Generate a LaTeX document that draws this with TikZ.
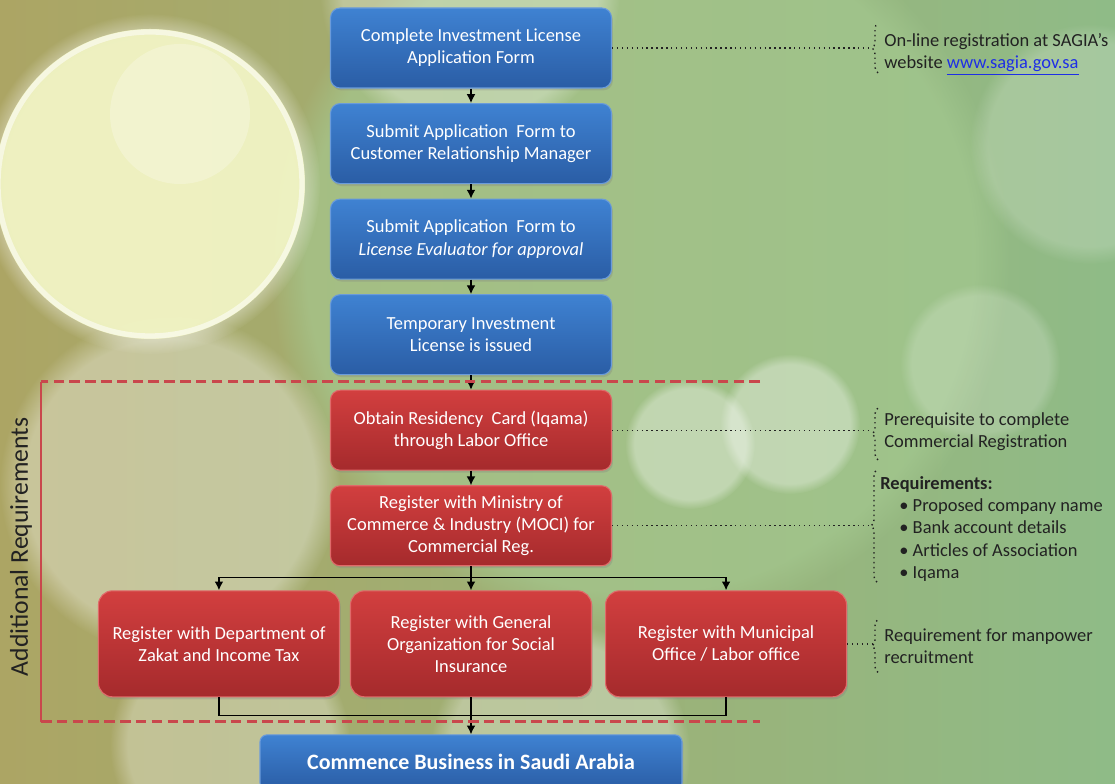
\documentclass[tikz,border=0pt]{standalone}
\usepackage{fontspec}
\setmainfont{Carlito}
\usetikzlibrary{arrows.meta,positioning,decorations.pathreplacing,shadows,fadings}
\definecolor{bluetop}{HTML}{3F82D2}
\definecolor{bluebot}{HTML}{2A5DA5}
\definecolor{blueedge}{HTML}{6A9BDB}
\definecolor{redtop}{HTML}{D23F3F}
\definecolor{redbot}{HTML}{A52A2C}
\definecolor{rededge}{HTML}{E06A6A}
\definecolor{dashred}{HTML}{C9474C}
\definecolor{olive}{HTML}{ACA564}
\definecolor{leaf}{HTML}{8FBB87}
\definecolor{paleleaf}{HTML}{A6CB92}
\definecolor{cream}{HTML}{F1F4C2}
\definecolor{inktext}{HTML}{222222}
\definecolor{linkblue}{HTML}{1E2EE6}

\begin{document}
\begin{tikzpicture}[
  >={Latex[length=5pt,width=5pt]},
  bluebox/.style={rounded corners=5.5pt, minimum width=5.62cm, minimum height=1.6cm, align=center, text=white,
    top color=bluetop, bottom color=bluebot, draw=blueedge, line width=0.6pt,
    font=\fontsize{10.5}{12.6}\selectfont,
    drop shadow={opacity=0.3, shadow xshift=0.8pt, shadow yshift=-1.4pt}},
  redbox/.style={bluebox, top color=redtop, bottom color=redbot, draw=rededge},
  wide/.style={redbox, rounded corners=8pt, minimum width=4.82cm, minimum height=2.12cm},
  arrow/.style={->, line width=0.75pt},
  link/.style={line width=0.75pt},
  dots/.style={dotted, line width=0.8pt, draw=inktext},
  brc/.style={dots, decorate, decoration={brace, amplitude=0.12cm}},
  note/.style={font=\fontsize{10.5}{12.6}\selectfont, text=inktext, align=left, inner xsep=0pt, inner ysep=2pt},
  frame/.style={draw=dashred, line width=1.7pt, dash pattern=on 6pt off 3pt},
  bokeh/.style={fill=white, path fading=circle with fuzzy edge 15 percent}
]
% background
\useasboundingbox (0,0) rectangle (22.3,15.68);
\shade[left color=olive, right color=leaf] (0,0) rectangle (22.3,15.68);
\fill[paleleaf, opacity=0.6, path fading=circle with fuzzy edge 10 percent] (12.8,10.5) circle (7.4cm);
\fill[bokeh, opacity=0.35] (3.4,6.0) circle (3.4cm);
\fill[bokeh, opacity=0.3] (4.6,0.8) circle (2.4cm);
\fill[bokeh, opacity=0.3] (11.2,0.6) circle (2.6cm);
\fill[bokeh, opacity=0.35] (13.8,6.8) circle (1.3cm);
\fill[bokeh, opacity=0.35] (15.8,7.2) circle (1.4cm);
\fill[bokeh, opacity=0.2] (21.8,12.8) circle (2.4cm);
\fill[bokeh, opacity=0.2] (19.6,8.4) circle (1.6cm);
\fill[bokeh, opacity=0.3] (9.4,15.9) circle (3.0cm);
% big bubble top left
\fill[white, opacity=0.5, path fading=circle with fuzzy edge 15 percent] (3.0,12.0) circle (3.4cm);
\fill[cream, opacity=0.9] (3.0,12.0) circle (3.1cm);
\draw[white, opacity=0.55, line width=3pt] (3.0,12.0) circle (3.04cm);
\fill[white, opacity=0.25] (3.6,13.4) circle (1.4cm);

% main chain
\node[bluebox] (form) at (9.42,14.72) {Complete Investment License\\Application Form};
\node[bluebox, below=0.29cm of form] (crm) {Submit Application\ \ Form to\\Customer Relationship Manager};
\node[bluebox, below=0.29cm of crm] (eval) {Submit Application\ \ Form to\\\textit{License Evaluator for approval}};
\node[bluebox, below=0.29cm of eval] (tli) {Temporary Investment\\License is issued};
\node[redbox, below=0.29cm of tli] (iqama) {Obtain Residency\ \ Card (Iqama)\\through Labor Office};
\node[redbox, below=0.29cm of iqama] (moci) {Register with Ministry of\\Commerce \& Industry (MOCI) for\\Commercial Reg.};
\node[wide, below=0.48cm of moci] (gosi) {Register with General\\Organization for Social\\Insurance};
\node[wide, left=0.2cm of gosi] (zakat) {Register with Department of\\Zakat and Income Tax};
\node[wide, right=0.26cm of gosi] (labor) {Register with Municipal\\Office / Labor office};
\node[bluebox, rounded corners=4pt, minimum width=8.44cm, minimum height=1.1cm, below=0.74cm of gosi,
  font=\fontsize{12.5}{14}\selectfont\bfseries] (business) {Commence Business in Saudi Arabia};

\draw[arrow] (form) -- (crm);
\draw[arrow] (crm) -- (eval);
\draw[arrow] (eval) -- (tli);
\draw[arrow] (tli) -- (iqama);
\draw[arrow] (iqama) -- (moci);
\coordinate[below=0.22cm of moci] (split);
\coordinate[below=0.36cm of gosi] (merge);
\draw[link] (moci) -- (split);
\draw[arrow] (split) -| (zakat);
\draw[arrow] (split) -| (labor);
\draw[arrow] (split) -- (gosi);
\draw[link] (zakat) |- (merge);
\draw[link] (labor) |- (merge);
\draw[arrow] (gosi) -- (business);

% additional requirements frame
\draw[frame] (15.2,8.04) -- (0.82,8.04);
\draw[draw=dashred, line width=1.7pt] (0.82,8.04) -- (0.82,1.24);
\draw[frame] (0.82,1.24) -- (15.2,1.24);
\node[rotate=90, font=\fontsize{14.6}{16}\selectfont, text=inktext] (addreq) at (0.42,4.74) {Additional Requirements};

% side notes
\node[note, anchor=west] (web) at (17.68,14.6) {On-line registration at SAGIA’s\\website \textcolor{linkblue}{\underline{www.sagia.gov.sa}}};
\node[note, anchor=west] (prereq) at (17.68,7.04) {Prerequisite to complete\\Commercial Registration};
\node[note, anchor=west] (req) at (17.6,5.1) {\textbf{Requirements:}\\
  \hspace*{0.38cm}\textbullet\ Proposed company name\\
  \hspace*{0.38cm}\textbullet\ Bank account details\\
  \hspace*{0.38cm}\textbullet\ Articles of Association\\
  \hspace*{0.38cm}\textbullet\ Iqama};
\node[note, anchor=west] (manpower) at (17.68,2.76) {Requirement for manpower\\recruitment};

\draw[brc] ([xshift=-0.12cm,yshift=0.12cm]web.south west) -- ([xshift=-0.12cm,yshift=0.12cm]web.north west);
\draw[brc] ([xshift=-0.12cm,yshift=-0.1cm]prereq.south west) -- ([xshift=-0.12cm,yshift=0.02cm]prereq.north west);
\draw[brc] ([xshift=-0.06cm,yshift=0.06cm]req.south west) -- ([xshift=-0.06cm,yshift=0.06cm]req.north west);
\draw[brc] ([xshift=-0.12cm,yshift=-0.1cm]manpower.south west) -- ([xshift=-0.12cm,yshift=0.1cm]manpower.north west);

\coordinate (webtip) at ([xshift=-0.24cm]web.west |- form.east);
\coordinate (prereqtip) at ([xshift=-0.24cm]prereq.west |- iqama.east);
\coordinate (reqtip) at ([xshift=-0.18cm]req.west |- moci.east);
\coordinate (manpowertip) at ([xshift=-0.24cm]manpower.west |- labor.east);
\draw[dots] (form) -- (webtip);
\draw[dots] (iqama) -- (prereqtip);
\draw[dots] (moci) -- (reqtip);
\draw[dots] (labor) -- (manpowertip);
\end{tikzpicture}
\end{document}
